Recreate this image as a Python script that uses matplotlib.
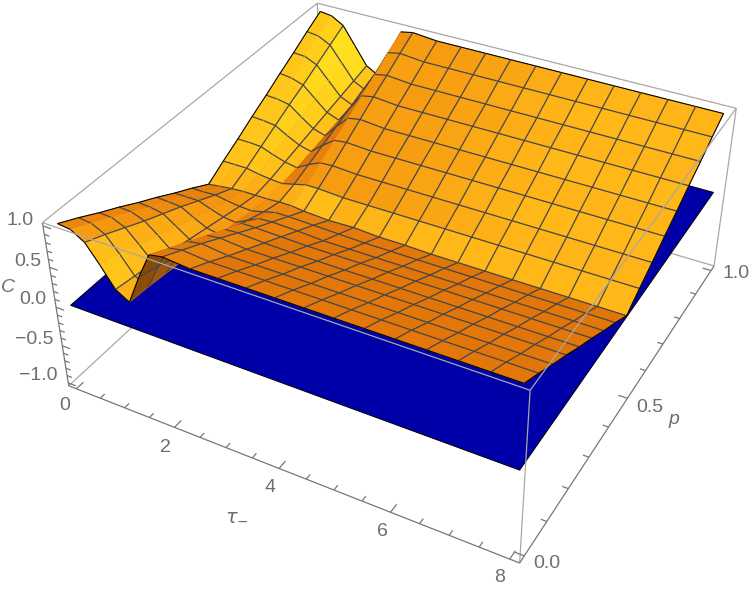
import numpy as np
import matplotlib
matplotlib.use('Agg')
import matplotlib.pyplot as plt
from matplotlib.colors import LinearSegmentedColormap
from mpl_toolkits.mplot3d.art3d import Poly3DCollection, Line3DCollection

W, H = 750, 592

tau = [0, 0.25, 0.5, 0.75, 1, 1.25, 1.5, 1.75, 2, 2.5, 3, 3.5, 4, 4.5, 5, 5.5, 6, 6.5, 7, 7.5, 8]
p = [0, 0.0625, 0.125, 0.1875, 0.25, 0.3125, 0.375, 0.4375, 0.5,
     0.5625, 0.625, 0.6875, 0.75, 0.8125, 0.875, 0.9375, 1]
# rows are tau, columns are p
C = np.array([
    [1.00, .88, .75, .63, .50, .38, .25, .13, .00, .13, .25, .38, .50, .63, .75, .88, 1.00],
    [.98, .86, .74, .62, .49, .37, .25, .13, .02, .13, .25, .37, .49, .61, .74, .86, .98],
    [.88, .78, .67, .56, .46, .36, .25, .14, .04, .13, .24, .35, .46, .56, .67, .78, .89],
    [.66, .59, .51, .43, .35, .27, .19, .11, .05, .10, .18, .26, .34, .42, .50, .58, .66],
    [.42, .38, .34, .29, .24, .19, .14, .09, .05, .08, .13, .18, .23, .28, .33, .38, .43],
    [.32, .30, .27, .24, .20, .16, .12, .08, .05, .07, .10, .14, .18, .22, .26, .30, .34],
    [.68, .61, .53, .45, .37, .28, .20, .12, .06, .11, .19, .27, .35, .43, .51, .59, .67],
    [1.00, .88, .76, .64, .52, .40, .27, .16, .06, .15, .26, .38, .50, .63, .75, .88, 1.00],
    [1.03, .91, .79, .66, .53, .40, .28, .16, .04, .15, .27, .40, .53, .66, .78, .91, 1.03],
    [1.00, .88, .75, .63, .51, .39, .27, .15, .02, .13, .25, .38, .50, .63, .75, .88, 1.00],
    [1.00, .88, .75, .63, .50, .38, .25, .14, .03, .13, .25, .38, .50, .63, .75, .88, 1.00],
    [1.00, .88, .75, .63, .50, .38, .25, .13, .01, .13, .25, .38, .50, .63, .75, .88, 1.00],
    [1.00, .88, .75, .63, .50, .38, .25, .13, .01, .13, .25, .38, .50, .63, .75, .88, 1.00],
    [1.00, .88, .75, .63, .50, .38, .25, .13, .00, .13, .25, .38, .50, .63, .75, .88, 1.00],
    [1.00, .88, .75, .63, .50, .38, .25, .13, .00, .13, .25, .38, .50, .63, .75, .88, 1.00],
    [1.00, .88, .75, .63, .50, .38, .25, .13, .00, .13, .25, .38, .50, .63, .75, .88, 1.00],
    [1.00, .88, .75, .63, .50, .38, .25, .13, .00, .13, .25, .38, .50, .63, .75, .88, 1.00],
    [1.00, .88, .75, .63, .50, .38, .25, .13, .00, .13, .25, .38, .50, .63, .75, .88, 1.00],
    [1.00, .88, .75, .63, .50, .38, .25, .13, .00, .13, .25, .38, .50, .63, .75, .88, 1.00],
    [1.00, .88, .75, .63, .50, .38, .25, .13, .00, .13, .25, .38, .50, .63, .75, .88, 1.00],
    [1.00, .88, .75, .63, .50, .38, .25, .13, .00, .13, .25, .38, .50, .63, .75, .88, 1.00],
])
plane_tau = [0, 8]
plane_p = [0, 1]
plane_C = [[0, 0], [0, 0]]

tau_ticks = [0, 2, 4, 6, 8]
p_ticks = [0.0, 0.5, 1.0]
C_ticks = [-1.0, -0.5, 0.0, 0.5, 1.0]
tau_labels = ['0', '2', '4', '6', '8']
p_labels = ['0.0', '0.5', '1.0']
C_labels = ['\u22121.0', '\u22120.5', '0.0', '0.5', '1.0']

# box is 2% bigger than the data on every side
t0, t1 = -0.16, 8.16
p0, p1 = -0.02, 1.02
c0, c1 = -1.04, 1.04

# where the box corners sit in the picture, used to fit the camera
corners = [
    ((t0, p0, c1), (43, 223)), ((t0, p0, c0), (68, 384)),
    ((t1, p0, c1), (530, 392)), ((t1, p0, c0), (520, 563)),
    ((t1, p1, c1), (735, 109)), ((t1, p1, c0), (715, 264)),
    ((t0, p1, c1), (318, 1)), ((t0, p1, c0), (322, 154)),
]
A, b = [], []
for (x, y, z), (u, v) in corners:
    A.append([x, y, z, 1, 0, 0, 0, 0, -u * x, -u * y, -u * z])
    A.append([0, 0, 0, 0, x, y, z, 1, -v * x, -v * y, -v * z])
    b += [u, v]
h = np.linalg.lstsq(np.array(A, float), np.array(b, float), rcond=None)[0]
P = np.append(h, 1).reshape(3, 4)
P_disp = np.array([[1, 0, 0], [0, -1, H], [0, 0, 1]]) @ P

plt.rcParams['mathtext.fontset'] = 'dejavusans'
fig = plt.figure(figsize=(W / 100, H / 100), dpi=100)
ax = fig.add_axes([0, 0, 1, 1], projection='3d', computed_zorder=False)
ax.set_axis_off()


def fixed_proj():
    Q = np.linalg.inv(ax.transData.get_matrix()) @ P_disp
    return np.array([Q[0], Q[1], Q[2] - [0, 0, 0, 0.5], Q[2]])


ax.get_proj = fixed_proj

box_col = '#a8a8a8'
axis_col = '#777777'
mesh_col = '#464646'
blue = '#0000a8'

shade_map = LinearSegmentedColormap.from_list('shade', [
    (0.0, '#6e3c0a'), (0.2, '#af5f0a'), (0.35, '#e2760a'), (0.5, '#f5960f'),
    (0.65, '#ffb718'), (1.0, '#ffe41e')])


def tint(t, q):
    # the lights are not uniform, the surface behind the ridge looks warmer
    if q > 0.5:
        if t < 1.25:
            return 0.1
        return np.interp(t, [1.25, 2, 3, 4, 5, 5.5], [-0.1, -0.13, -0.11, -0.07, -0.02, 0])
    if t < 2.5:
        return 0.05
    return 0


def add_lines(segs, col, lw, z):
    lc = Line3DCollection(segs, colors=col, linewidths=lw, zorder=z)
    ax.add_collection3d(lc, autolim=False)
    lc.set_clip_on(False)


# back of the box, hidden by what comes next
add_lines([[(t0, p0, c1), (t0, p1, c1)], [(t0, p1, c1), (t1, p1, c1)],
           [(t0, p1, c0), (t0, p0, c0)], [(t0, p1, c0), (t1, p1, c0)],
           [(t0, p1, c0), (t0, p1, c1)]], box_col, 0.9, 1)

T, Y = np.meshgrid(plane_tau, plane_p, indexing='ij')
plane = ax.plot_surface(T, Y, np.array(plane_C, float), color=blue, shade=False,
                        edgecolor='black', linewidth=0.7, zorder=2)
plane.set_clip_on(False)

# one strip per tau step, far strips first so the ridge hides the trough
nt, np_ = len(tau), len(p)
for i in range(nt - 1):
    verts, cols, grey, dark = [], [], [], []
    for j in range(np_ - 1):
        verts.append([(tau[i], p[j], C[i, j]), (tau[i + 1], p[j], C[i + 1, j]),
                      (tau[i + 1], p[j + 1], C[i + 1, j + 1]), (tau[i], p[j + 1], C[i, j + 1])])
        dt = tau[i + 1] - tau[i]
        dp = p[j + 1] - p[j]
        g_t = (C[i + 1, j] - C[i, j] + C[i + 1, j + 1] - C[i, j + 1]) / (2 * dt)
        g_p = (C[i, j + 1] - C[i, j] + C[i + 1, j + 1] - C[i + 1, j]) / (2 * dp)
        s = 0.5 + 0.075 * g_p - 0.3 * g_t + tint(tau[i], p[j])
        cols.append(shade_map(np.clip(s, 0, 1)))
    poly = Poly3DCollection(verts, facecolors=cols, edgecolors=cols, linewidths=0.4, zorder=10 + 2 * i)
    ax.add_collection3d(poly, autolim=False)
    poly.set_clip_on(False)
    for j in range(np_):
        seg = [(tau[i], p[j], C[i, j]), (tau[i + 1], p[j], C[i + 1, j])]
        (dark if j in (0, np_ - 1) else grey).append(seg)
    across = [(tau[i], p[j], C[i, j]) for j in range(np_)]
    if i == 0:
        dark.append(across)
    elif tau[i] * 2 == int(tau[i] * 2):
        grey.append(across)
    if i == nt - 2:
        dark.append([(tau[i + 1], p[j], C[i + 1, j]) for j in range(np_)])
    add_lines(grey, mesh_col, 0.9, 11 + 2 * i)
    add_lines(dark, 'black', 0.8, 11 + 2 * i)

# front of the box
add_lines([[(t0, p0, c1), (t1, p0, c1)], [(t1, p0, c1), (t1, p1, c1)],
           [(t1, p0, c1), (t1, p0, c0)], [(t1, p1, c1), (t1, p1, c0)]], box_col, 0.9, 200)

# axes and ticks
ticks = [[(t0, p0, c0), (t1, p0, c0)], [(t1, p0, c0), (t1, p1, c0)], [(t0, p0, c0), (t0, p0, c1)]]
for k in range(17):
    v = k * 0.5
    ticks.append([(v, p0, c0), (v, p0 + (0.024 if v in tau_ticks else 0.015), c0)])
for k in range(11):
    v = k * 0.1
    major = min(abs(v - q) for q in p_ticks) < 1e-6
    ticks.append([(t1, v, c0), (t1 - (0.16 if major else 0.1), v, c0)])
for k in range(21):
    v = -1 + k * 0.1
    major = min(abs(v - q) for q in C_ticks) < 1e-6
    ticks.append([(t0, p0, v), (t0 + (0.16 if major else 0.1), p0, v)])
add_lines(ticks, axis_col, 0.9, 201)


def put(x, y, s, **kw):
    fig.text(x / W, 1 - y / H, s, color='#6e6e6e', va='center', **kw)


sans = dict(family=['Liberation Sans', 'DejaVu Sans'], fontsize=14)
for s, (x, y) in zip(tau_labels, [(65, 405), (165, 447), (270, 487), (382, 531), (500, 578)]):
    put(x, y, s, ha='center', **sans)
for s, (x, y) in zip(p_labels, [(547, 563), (650, 408), (736, 273)]):
    put(x, y, s, ha='center', **sans)
for s, (x, y) in zip(C_labels, [(58, 375), (53, 340), (46, 300), (41, 262), (34, 221)]):
    put(x, y, s, ha='right', **sans)
ital = dict(family=['Liberation Sans', 'DejaVu Sans'], fontsize=14, style='italic')
put(8, 288, 'C', ha='center', **ital)
put(674, 420, 'p', ha='center', **ital)
put(237, 514, r'$\tau_{-}$', ha='center', fontsize=14)

fig.savefig('out.png', dpi=100)
